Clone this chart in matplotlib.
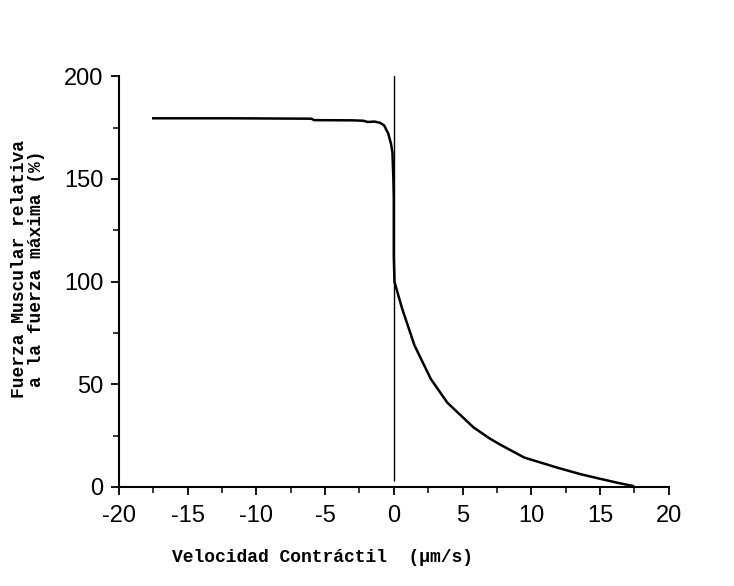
import matplotlib
matplotlib.use("Agg")
import matplotlib.pyplot as plt
from matplotlib.ticker import MultipleLocator

plt.rcParams["axes.unicode_minus"] = False

# Curva fuerza-velocidad
vel = [-17.5, -12.0, -6.0, -5.8, -3.0, -2.2, -1.9, -1.4, -1.0, -0.7, -0.4,
       -0.2, -0.1, -0.03, 0.0, 0.0, 0.05, 0.15, 0.6, 1.5, 2.7, 3.9, 5.8,
       7.0, 7.8, 9.5, 11.9, 13.6, 15.0, 16.3, 17.4]
fuerza = [179.5, 179.5, 179.3, 178.6, 178.5, 178.3, 177.7, 177.9, 177.3,
          176.0, 172.0, 167.0, 163.0, 150.0, 141.0, 112.0, 100.0, 97.5,
          87.0, 69.0, 52.5, 41.0, 29.0, 23.5, 20.4, 14.3, 9.4, 6.2, 4.0,
          2.0, 0.5]

# linea vertical en velocidad cero
v0 = 0.0
v0_ymin, v0_ymax = 3.0, 201.0

fig = plt.figure(figsize=(7.34, 5.86), dpi=100)
ax = fig.add_axes([0.162, 0.169, 0.749, 0.701])

ax.plot(vel, fuerza, color="black", lw=1.8)
ax.vlines(v0, v0_ymin, v0_ymax, color="black", lw=1.0)

ax.set_xlim(-20, 20)
ax.set_ylim(0, 200)
ax.xaxis.set_major_locator(MultipleLocator(5))
ax.xaxis.set_minor_locator(MultipleLocator(2.5))
ax.yaxis.set_major_locator(MultipleLocator(50))
ax.yaxis.set_minor_locator(MultipleLocator(25))

for s in ["top", "right"]:
    ax.spines[s].set_visible(False)
for s in ["left", "bottom"]:
    ax.spines[s].set_linewidth(1.5)

ax.tick_params(which="major", direction="out", length=6, width=1.3,
               labelsize=17)
ax.tick_params(axis="x", which="major", pad=7)
ax.tick_params(axis="y", which="major", pad=5)
ax.tick_params(which="minor", direction="out", length=4, width=1.1)
for lab in ax.get_xticklabels() + ax.get_yticklabels():
    lab.set_family("Liberation Sans")

ax.set_xlabel("Velocidad Contráctil  (μm/s)", family="Liberation Mono",
              fontsize=13, fontweight="bold")
ax.xaxis.set_label_coords(0.37, -0.15)
ax.set_ylabel("Fuerza Muscular relativa\na la fuerza máxima (%)",
              family="Liberation Mono", fontsize=13, fontweight="bold",
              linespacing=1.0)
ax.yaxis.set_label_coords(-0.135, 0.53)

fig.savefig("out.png", dpi=100)
